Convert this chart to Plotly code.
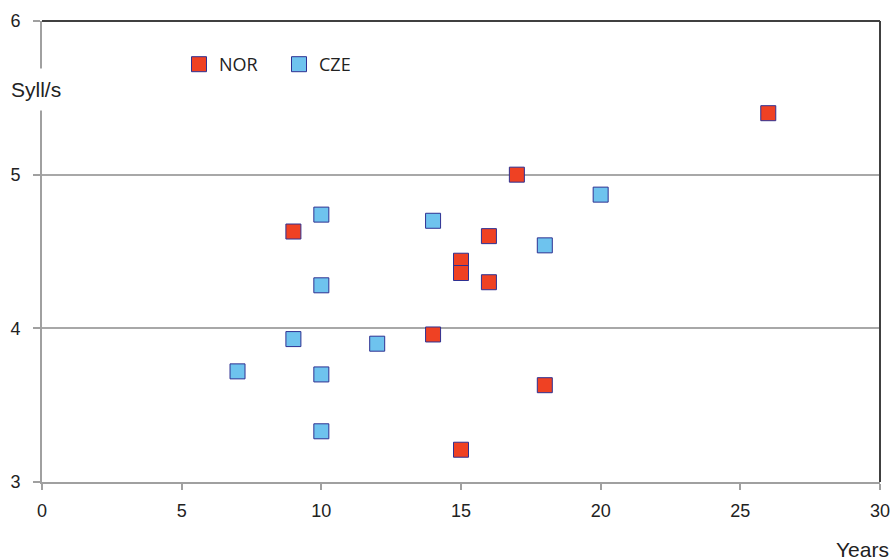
import plotly.graph_objects as go

nor_x = [9, 14, 15, 15, 15, 16, 16, 17, 18, 26]
nor_y = [4.63, 3.96, 4.44, 4.36, 3.21, 4.60, 4.30, 5.00, 3.63, 5.40]
cze_x = [7, 9, 10, 10, 10, 10, 12, 14, 18, 20]
cze_y = [3.72, 3.93, 4.74, 4.28, 3.70, 3.33, 3.90, 4.70, 4.54, 4.87]
x_ticks = [0, 5, 10, 15, 20, 25, 30]
y_ticks = [3, 4, 5, 6]

edge = "#2E3192"
fig = go.Figure()
fig.add_trace(go.Scatter(x=nor_x, y=nor_y, mode="markers", name="NOR",
                         marker=dict(symbol="square", size=15, color="#EF4123",
                                     line=dict(color=edge, width=1))))
fig.add_trace(go.Scatter(x=cze_x, y=cze_y, mode="markers", name="CZE",
                         marker=dict(symbol="square", size=15, color="#6EC3EE",
                                     line=dict(color=edge, width=1))))

W, H = 895, 560
L, R, T, B = 42, 15, 21, 78
pw, ph = W - L - R, H - T - B

fig.update_layout(
    width=W, height=H,
    margin=dict(l=L, r=R, t=T, b=B),
    paper_bgcolor="white", plot_bgcolor="white",
    font=dict(family="Liberation Sans, Arial, sans-serif", size=18, color="#222"),
    legend=dict(orientation="h", x=(179 - L) / pw, y=(482 - 64.5) / ph,
                xanchor="left", yanchor="middle",
                font=dict(family="Open Sans, sans-serif", size=18, color="#222"),
                bgcolor="rgba(0,0,0,0)", itemwidth=30, entrywidth=55,
                entrywidthmode="pixels"),
    xaxis=dict(range=[0, 30], tickvals=x_ticks, showgrid=False, zeroline=False,
               showline=True, linecolor="#A0A0A0", linewidth=2, automargin=False,
               ticks="outside", ticklen=6, tickcolor="#A0A0A0", tickwidth=1.5,
               ticklabelstandoff=5),
    yaxis=dict(range=[3, 6], tickvals=y_ticks, showgrid=True, gridcolor="#A8A8A8",
               gridwidth=1.5, zeroline=False, automargin=False,
               showline=True, linecolor="#A0A0A0", linewidth=2,
               ticks="outside", ticklen=7, tickcolor="#A0A0A0", tickwidth=1.5,
               ticklabelstandoff=9),
    shapes=[
        dict(type="line", xref="paper", yref="paper", x0=0, x1=1, y0=1, y1=1,
             line=dict(color="#404040", width=2)),
        dict(type="line", xref="paper", yref="paper", x0=1, x1=1, y0=0, y1=1,
             line=dict(color="#404040", width=2)),
    ],
    annotations=[
        dict(text="Syll/s", xref="paper", yref="paper", x=(35.5 - L) / pw,
             y=(482 - 89.5) / ph,
             xanchor="center", yanchor="middle", showarrow=False,
             font=dict(size=21, family="Liberation Sans, Arial, sans-serif", color="#222"),
             bgcolor="white", borderpad=9),
        dict(text="Years", xref="paper", yref="paper", x=(862 - L) / pw,
             y=(482 - 549) / ph,
             xanchor="center", yanchor="middle", showarrow=False,
             font=dict(size=21, family="Liberation Sans, Arial, sans-serif", color="#222")),
    ],
)
fig.write_html("out.html", config={"displayModeBar": False},
               post_script="document.body.style.margin='0';document.body.style.overflow='hidden';")
